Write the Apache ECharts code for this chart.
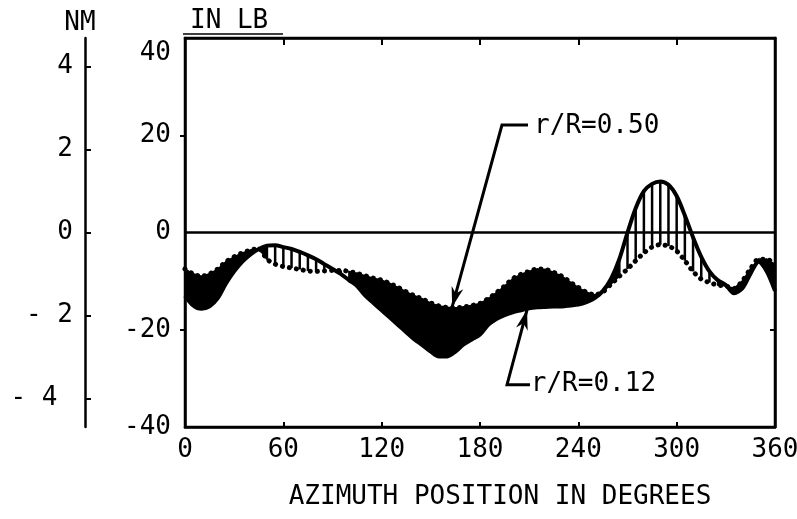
<!DOCTYPE html>
<html><head><meta charset="utf-8">
<script src="https://cdn.jsdelivr.net/npm/echarts@6/dist/echarts.min.js"></script>
<style>html,body{margin:0;padding:0;background:#fff}#c{width:797px;height:519px}</style>
</head><body><div id="c"></div>
<script>
// ---- data ----
const azimuth = [0,5,10,15,20,25,30,35,40,45,50,55,60,65,70,75,80,85,90,95,100,105,110,115,120,125,130,135,140,145,150,155,160,165,170,175,180,185,190,195,200,205,210,215,220,225,230,235,240,245,250,255,260,265,270,275,280,285,290,295,300,305,310,315,320,325,330,335,340,345,350,355,360];
// smooth solid curve (lower edge of band, peak near 290 deg)
const momentR012 = [-13,-15,-15.7,-15.2,-13.5,-10.5,-8,-6,-4.5,-3.4,-2.7,-2.6,-3.0,-3.4,-4.0,-4.7,-5.5,-6.5,-7.5,-8.5,-9.8,-11,-13,-14.5,-16,-17.5,-19,-20.5,-22,-23.2,-24.5,-25.5,-25.5,-24.5,-23,-22,-21,-19,-17.8,-17,-16.4,-16,-15.6,-15.4,-15.3,-15.2,-15.2,-15,-14.8,-14.3,-13.5,-12,-9.5,-5.5,0,5,8.5,10,10.5,9.8,7.5,3.5,-1,-5,-8,-9.8,-10.8,-12.5,-11.5,-8.5,-6,-8,-12];
// dotted curve (knobby upper edge of band)
const momentR050 = [-7.5,-8.5,-9,-8.5,-7.5,-6,-5,-4.2,-3.6,-3.3,-5.5,-6.5,-7,-7.3,-7.6,-7.9,-8,-7.9,-7.8,-7.8,-8.0,-8.4,-8.9,-9.4,-9.8,-10.5,-11.3,-12.2,-13,-13.7,-14.5,-15.1,-15.4,-15.5,-15.3,-15,-14.6,-13.6,-12.4,-11,-9.5,-8.6,-8,-7.5,-7.6,-8.2,-9,-10.2,-11.3,-12.3,-12.8,-12.2,-10.6,-9,-7.5,-5.8,-4.2,-3.0,-2.5,-2.8,-3.8,-5.8,-8,-9.6,-10.3,-10.8,-11,-11.5,-10,-7.5,-5.5,-5.5,-6.5];
const xTickValues = [0,60,120,180,240,300,360];
const inlbTickValues = [-40,-20,0,20,40];
const nmTickValues = [-4,-2,0,2,4];
const labelR050 = 'r/R=0.50';
const labelR012 = 'r/R=0.12';
const xTitle = 'AZIMUTH POSITION IN DEGREES';
const leftUnit = 'NM';
const mainUnit = 'IN LB';

// ---- rendering setup ----
const FONT = 'DejaVu Sans Mono';
const hatchedRanges = [[48,100],[262,322]];
const inHatch = a => hatchedRanges.some(r => a >= r[0] && a < r[1]);

const segData = azimuth.slice(0,-1).map((a,i)=>[a, azimuth[i+1], momentR012[i], momentR012[i+1], momentR050[i], momentR050[i+1]]);

const chart = echarts.init(document.getElementById('c'), null, {renderer:'canvas'});
const gridCfg = {left:185, right:22, top:38, bottom:92, show:true, borderColor:'#000', borderWidth:2.5,
  backgroundColor:'transparent', containLabel:false, outerBoundsMode:'none'};
const topValue = inlbTickValues[inlbTickValues.length-1];

chart.setOption({
  backgroundColor:'#fff',
  animation:false,
  grid: gridCfg,
  xAxis: [{
    type:'value', min:0, max:360, interval:60, position:'bottom',
    axisLine:{show:true, onZero:false, lineStyle:{color:'#000', width:2.5}},
    axisTick:{show:true, inside:true, length:5, lineStyle:{color:'#000', width:2}},
    axisLabel:{color:'#000', fontFamily:FONT, fontSize:26, margin:10,
      customValues:xTickValues},
    splitLine:{show:false}
  },{
    type:'value', min:0, max:360, interval:60, position:'top',
    axisLine:{show:true, onZero:false, lineStyle:{color:'#000', width:2.5}},
    axisTick:{show:true, inside:true, length:7, lineStyle:{color:'#000', width:2}},
    axisLabel:{show:false}, splitLine:{show:false}
  }],
  yAxis: [{
    type:'value', min:-40, max:40, interval:20, position:'left',
    axisLine:{show:true, onZero:false, lineStyle:{color:'#000', width:2.5}},
    axisTick:{show:true, inside:false, length:5, lineStyle:{color:'#000', width:2}, customValues:[-20,20]},
    axisLabel:{color:'#000', fontFamily:FONT, fontSize:26, margin:14, customValues:inlbTickValues.slice(0,-1)},
    splitLine:{show:false}
  },{
    type:'value', min:-4.68, max:4.68, position:'left', offset:100,
    axisLine:{show:true, onZero:false, lineStyle:{color:'#000', width:2.5}},
    axisTick:{show:true, inside:true, length:6, lineStyle:{color:'#000', width:2}, customValues:nmTickValues},
    axisLabel:{color:'#000', fontFamily:FONT, fontSize:26, margin:12, customValues:nmTickValues,
      formatter: v => v < 0 ? ('- ' + Math.abs(v) + (v < -3 ? ' ' : '')) : String(v)},
    splitLine:{show:false}
  },{
    type:'value', min:-40, max:40, position:'right',
    axisLine:{show:true, onZero:false, lineStyle:{color:'#000', width:2.5}},
    axisTick:{show:true, inside:true, length:5, lineStyle:{color:'#000', width:2}, customValues:[-20]},
    axisLabel:{show:false}, splitLine:{show:false}
  }],
  series: [{
    type:'custom', xAxisIndex:0, yAxisIndex:0, z:2,
    data: segData,
    encode:{x:[0,1], y:[2,3,4,5]},
    renderItem: function(params, api){
      const x0=api.value(0), x1=api.value(1), p0=api.value(2), p1=api.value(3), q0=api.value(4), q1=api.value(5);
      if (inHatch(x0)) {
        const a=api.coord([x0,p0]), b=api.coord([x0,q0]);
        return {type:'line', shape:{x1:a[0],y1:a[1],x2:b[0],y2:b[1]}, style:{stroke:'#000', lineWidth:2.5}};
      }
      const pts=[api.coord([x0,p0]),api.coord([x1,p1]),api.coord([x1,q1]),api.coord([x0,q0])];
      return {type:'polygon', shape:{points:pts}, style:{fill:'#000', stroke:'#000', lineWidth:1.5}};
    }
  },{
    name:labelR012, type:'line', z:3, smooth:0.3, showSymbol:false,
    data: azimuth.map((a,i)=>[a, momentR012[i]]),
    lineStyle:{color:'#000', width:4},
    markLine:{silent:true, symbol:'none', label:{show:false},
      lineStyle:{color:'#000', width:2.5, type:'solid'}, data:[{yAxis:0}]}
  },{
    name:labelR050, type:'line', z:4, smooth:0.3, showSymbol:false,
    data: azimuth.map((a,i)=>[a, momentR050[i]]),
    lineStyle:{color:'#000', width:5, type:[0.1,7], cap:'round'}
  }]
});

// ---- annotations positioned in data space ----
const notes = [
  {text:labelR050, tip:[163,-15.3], elbow:[193.4,22.1], end:[209.3,22.1], textAt:[213,21.8]},
  {text:labelR012, tip:[208.7,-15.9], elbow:[196.5,-31.3], end:[210.5,-31.3], textAt:[211,-31.3]}
];
const px = p => chart.convertToPixel({xAxisIndex:0, yAxisIndex:0}, p);
function head(tip, from, len, hw){
  const dx=tip[0]-from[0], dy=tip[1]-from[1], L=Math.hypot(dx,dy), ux=dx/L, uy=dy/L;
  const bx=tip[0]-ux*len, by=tip[1]-uy*len;
  return [[tip[0],tip[1]],[bx-uy*hw,by+ux*hw],[tip[0]-ux*len*0.7,tip[1]-uy*len*0.7],[bx+uy*hw,by-ux*hw]];
}
const g = [];
notes.forEach(n=>{
  const t=px(n.tip), e=px(n.elbow), d=px(n.end), s=px(n.textAt);
  g.push({type:'polyline', z:10, shape:{points:[d,e,t]}, style:{stroke:'#000', lineWidth:3, fill:null}});
  g.push({type:'polygon', z:10, shape:{points:head(t,e,20,6)}, style:{fill:'#000'}});
  g.push({type:'text', z:10, x:s[0], y:s[1], style:{text:n.text, font:'26px "'+FONT+'"', fill:'#000', textVerticalAlign:'middle', textAlign:'left'}});
});
// top value label sits just below its tick, as in the reference
const tv = px([0, topValue]);
g.push({type:'text', x:tv[0]-14, y:tv[1]+15, style:{text:String(topValue), font:'26px "'+FONT+'"', fill:'#000', textAlign:'right', textVerticalAlign:'middle'}});
const gridTop = gridCfg.top;
g.push({type:'text', x:80, y:23, style:{text:leftUnit, font:'26px "'+FONT+'"', fill:'#000', textAlign:'center', textVerticalAlign:'middle'}});
g.push({type:'text', x:190, y:21, style:{text:mainUnit, font:'26px "'+FONT+'"', fill:'#000', textAlign:'left', textVerticalAlign:'middle'}});
g.push({type:'line', shape:{x1:183,y1:gridTop-4,x2:283,y2:gridTop-4}, style:{stroke:'#000', lineWidth:1.5}});
g.push({type:'text', x:500, y:497, style:{text:xTitle, font:'26px "'+FONT+'"', fill:'#000', textAlign:'center', textVerticalAlign:'middle'}});
chart.setOption({graphic:{elements:g}});
</script></body></html>
